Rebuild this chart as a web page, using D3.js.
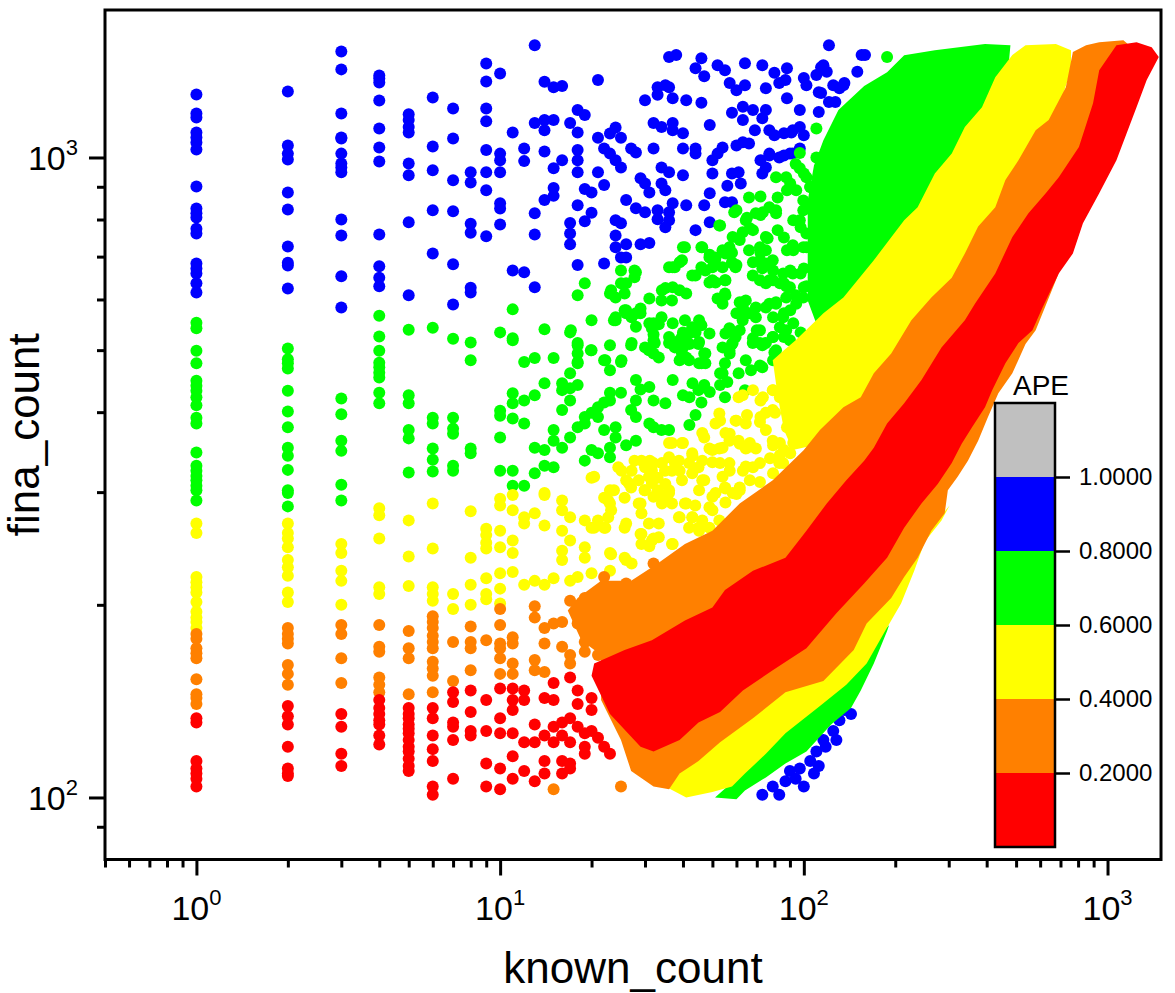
<!DOCTYPE html>
<html>
<head>
<meta charset="utf-8">
<script src="https://cdn.jsdelivr.net/npm/d3@7"></script>
<style>
  body { margin: 0; background: #fff; }
  text { font-family: Arial, "Liberation Sans", sans-serif; fill: #000; }
</style>
</head>
<body>
<div id="container"></div>
<script>
const width = 1175;
const height = 993;

// APE classes (colour bar)
const apeBreaks = [0.2, 0.4, 0.6, 0.8, 1.0];
const apeColors = ["#ff0000", "#ff8000", "#ffff00", "#00ff00", "#0000ff", "#c0c0c0"];
const apeEdges = [0, 0.2, 0.4, 0.6, 0.8, 1.0, 1.2];
const apeTicks = [0.2, 0.4, 0.6, 0.8, 1.0];

// axis ticks
const xMajor = [1, 10, 100, 1000];
const xMinor = [0.5, 0.6, 0.7, 0.8, 0.9, 2, 3, 4, 5, 6, 7, 8, 9, 20, 30, 40, 50, 60, 70, 80, 90,
                200, 300, 400, 500, 600, 700, 800, 900];
const yMajor = [100, 1000];
const yMinor = [90, 200, 300, 400, 500, 600, 700, 800, 900];

// low known_count columns: [known_count, [fina_count, ...]]
const blueCols = [
  [1, [1254,1171,1155,1094,1075,1055,1029,901,832,818,806,774,761,683,671,659,636,615]],
  [2, [1268,1044,1014,993,882,829,726,685,678,624]],
  [3, [1464,1373,1171,1075,1071,1014,979,965,948,800,755,652,583]],
  [4, [1343,1329,1310,1228,1110,1037,986,758,676,649,629]],
  [5, [1168,1144,1116,1094,979,938,792,609]],
  [6, [1241,1040,955,827,708]],
  [7, [1193,1071,921,824,681,589]],
  [8, [948,914,788,763,626,615]],
  [9, [1402,1314,1193,1139,1027,948,889,753]],
  [10, [1353,1014,990,948,848,832,786]]
];
const greenCols = [
  [1, [552,541,499,477,448,440,432,422,410,392,384,346,330,324,318,313,307,302,291]],
  [2, [503,484,477,468,432,401,379,352,342,325,302,299,285]],
  [3, [420,397,361,348,308,291]],
  [4, [566,525,499,478,470,461,453,429,413]],
  [5, [538,425,413,375,364,322]],
  [6, [542,392,384,351,337,323]],
  [7, [521,392,377,370,330,324]],
  [8, [514,482,351,345]],
  [10, [533,402,395,365,324]]
];
const yellowCols = [
  [1, [268,259,221,217,213,209,202,195,191,188,184]],
  [2, [268,259,254,246,235,229,222,209,202]],
  [3, [249,241,226,218,200]],
  [4, [283,276,254,213,208]],
  [5, [271,238,214]],
  [6, [288,245,213,208,203]],
  [7, [208,197]],
  [8, [280,237,215,200]],
  [9, [263,257,250,245,220,208,204]],
  [10, [293,286,261,246,224,212,201]]
];
const orangeCols = [
  [1, [180,177,171,168,165,153,145,143,140]],
  [2, [184,180,177,174,161,156,150]],
  [3, [186,180,165,151]],
  [4, [186,172,169,154,150,146]],
  [5, [182,171,165,145]],
  [6, [192,188,184,179,175,171,163,159,155,146]],
  [7, [175,152]],
  [8, [185,175,171,158]],
  [9, [176]],
  [10, [197,186,174,171,165,156]]
];
const redCols = [
  [1, [133,131,114,111,109,107,104]],
  [2, [139,134,130,120,111,109,108]],
  [3, [135,129,117,112]],
  [4, [142,138,135,132,130,125,121]],
  [5, [138,135,133,130,128,126,123,120,118,115,112,110]],
  [6, [138,133,125,119,114,104,101]],
  [7, [146,141,131,129,123,107]],
  [8, [147,136,127,125]],
  [9, [142,127,113,104]],
  [10, [148,133,126,111,103]]
];

// scattered points: [known_count, fina_count]
const blueDots = [[11,1094],[11,666],[12,1033],[12,987],[12,662],[13,1498],[13,1132],[13,818],[13,758],[13,627],
  [14,1313],[14,1144],[14,1103],[14,1022],[14,858],[15,1288],[16,1293],[15,1144],[15,962],[15,896],[15,871],
  [16,990],[17,1132],[18,1186],[19,1165],[18,1094],[18,1027],[18,990],[18,948],[17,790],[17,761],[17,732],
  [18,842],[18,679],[19,893],[20,882],[19,795],[20,820],[21,1321],[21,1074],[21,948],[22,906],[22,683],
  [22,1033],[23,1014],[24,990],[25,965],[23,1090],[24,1114],[25,1074],[24,798],[25,789],[24,755],[24,724],
  [26,732],[29,732],[31,735],[25,698],[26,698],[26,858],[28,833],[30,821],[27,1033],[28,1018],[29,928],
  [30,911],[31,882],[30,1229],[33,1288],[35,1297],[36,1288],[33,1253],[32,1132],[34,1116],[37,1132],
  [37,1103],[40,1091],[32,1033],[34,965],[36,948],[34,911],[35,889],[33,827],[33,801],[36,821],[37,848],
  [36,798],[35,778],[37,1238],[41,1229],[36,1436],[38,1446],[41,842],[40,1033],[40,938],[44,1379],[46,1429],
  [46,1218],[44,770],[44,1033],[44,1014],[47,1340],[49,1124],[49,879],[49,792],[47,842],[52,1394],[55,1369],
  [54,1037],[52,1014],[50,990],[50,944],[57,1307],[60,1274],[58,1175],[63,1200],[63,1144],[68,1186],[56,903],
  [62,911],[58,944],[61,948],[55,851],[58,851],[60,1044],[63,1056],[66,1052],[64,1404],[64,1297],[69,1103],
  [73,1394],[75,1283],[73,1152],[75,1186],[72,990],[73,944],[77,1007],[77,1103],[80,1083],[86,1091],
  [91,1094],[97,1116],[100,1083],[80,1356],[83,1307],[88,1379],[88,1238],[86,1007],[90,1014],[97,1033],
  [97,1186],[112,1178],[114,1261],[100,1331],[102,1297],[110,1346],[116,1394],[119,1361],[121,1498],
  [125,1297],[131,1283],[136,1307],[121,1221],[127,1221],[150,1361],[155,1446],[159,1446],[87,1321],
  [114,1384],[135,1297],[112,1265],[92,1103],[77,1014],[83,1000],[92,1014],[75,965],
  [73,101],[79,104],[87,106],[94,107],[90,110],[97,111],[108,109],[105,114],[110,118],[118,120],[116,123],
  [125,127],[131,132],[136,137],[143,135],[128,123],[83,101],[100,104],[112,112]];
const greenDots = [[11,518],[12,479],[13,486],[15,486],[14,444],[16,444],[17,436],[18,441],[18,509],[18,479],
  [17,460],[20,500],[22,482],[23,465],[25,479],[27,509],[30,505],[32,518],[32,494],[36,524],[40,505],[41,487],
  [39,482],[45,511],[47,494],[46,477],[57,494],[55,477],[54,460],[58,511],[68,522],[73,509],[80,496],[11,428],
  [11,413],[12,417],[11,391],[12,384],[13,425],[16,433],[16,403],[17,417],[18,379],[15,375],[15,361],
  [13,352],[14,349],[13,321],[14,330],[15,328],[11,324],[12,307],[11,307],[16,352],[17,365],[19,393],[20,399],
  [19,384],[21,407],[22,414],[21,393],[23,429],[23,417],[25,429],[24,379],[24,365],[26,355],[22,375],[19,336],
  [20,349],[21,345],[23,340],[23,352],[28,449],[29,434],[31,438],[27,403],[28,393],[28,417],[31,384],[32,379],
  [34,375],[36,375],[28,361],[32,417],[35,413],[37,449],[40,425],[42,422],[43,444],[45,433],[47,441],[42,382],
  [44,396],[46,414],[49,430],[53,441],[56,446],[53,460],[61,460],[67,465],[73,470],[64,433],[55,422],[86,524],
  [90,518],[11,579],[11,522],[14,539],[17,533],[18,513],[19,636],[18,609],[20,557],[23,613],[24,604],[24,557],
  [25,666],[25,636],[26,636],[28,662],[26,577],[28,571],[29,581],[31,551],[32,551],[31,602],[34,598],[35,625],
  [37,674],[39,686],[37,627],[39,620],[41,613],[44,654],[40,724],[46,724],[49,705],[51,691],[46,674],[50,643],
  [55,643],[55,613],[52,602],[58,686],[58,710],[60,679],[66,716],[60,827],[53,783],[66,866],[72,869],[82,866],
  [72,813],[65,805],[68,770],[76,748],[82,770],[86,750],[72,710],[68,686],[73,671],[79,691],[77,643],[86,636],
  [92,659],[100,671],[90,627],[94,609],[100,627],[108,650],[88,716],[92,729],[102,724],[110,742],[77,836],
  [81,827],[102,833],[110,778],[118,789],[94,977],[97,962],[81,931],[88,889],[100,944],[105,899],[110,1000],
  [97,798],[66,571],[63,583],[60,571],[54,591],[57,535],[77,591],[81,594],[86,571],[70,537],[79,524],[46,547],
  [44,533],[40,533],[42,511],[37,551],[39,518],[34,563],[32,529],[29,571],[28,544],[26,571],[24,563],[23,509],
  [188,1436],[110,1110],[97,1016],
  [17.1,537],[18,494],[18,477],[19.9,500],[22.2,482],[25.1,482],[27.1,513],[30.9,500],[32.3,513],[33.3,487],
  [31.6,541],[33.3,549],[36,513],[37.6,505],[39.7,494],[41.9,482],[45.2,477],[47.4,477],[39.7,524],[41.9,531],
  [40.6,557],[42.9,543],[45.2,557],[45.2,515],[47.4,494],[48.9,531],[54,505],[56.9,500],[58.3,513],[56.9,541],
  [55.2,531],[59.6,524],[61.5,537],[62.9,557],[64.4,571],[69.5,563],[71.7,537],[79.2,563],[83.4,543],
  [87.5,537],[79.2,524],[81,500],[75,513],[92.3,551],[97.6,533],[99.6,513],[102,494],[67.9,513],[71.7,513],
  [64.4,482],[71.7,473],[79.2,482],[90.2,577],[85.5,563],[87.5,604],[81,591],[75,583],[69.5,583],[64.4,598],
  [61.5,594],[99.6,604],[94.4,591],[97.6,659],[102,629],[83.4,636],[87.5,629],[67.9,654],[71.7,643],[75,636],
  [79.2,643],[75,683],[79.2,666],[85.5,659],[90.2,666],[71.7,691],[75,716],[55.2,609],[55.2,643],[48.9,638],
  [51.2,638],[42.9,654],[39.7,691],[37.6,674],[47.4,666],[50,674],[54,674],[58.3,683],[59.6,674],[55.2,708],
  [48.9,698],[51.2,698],[54,716],[40.6,724],[46.3,724],[58.3,751],[56.9,724],[61.5,743],[75,751],[71.7,724],
  [64.4,798],[66.4,775],[62.9,764],[69.5,818],[73.3,821],[81,818],[59,821],[52.7,783],[92.3,798],[97.6,778],
  [92.3,716],[99.6,724],[102,761],[99.6,827],[99.6,857],[87.5,931],[90.2,911],[94.4,889],[102,931],[105,899],
  [23.7,557],[25.7,577],[27.1,563],[34.1,620],[36.8,598],[23.2,620],[25.7,613],[27.7,666],[27.7,650],[36,674]];
const yellowDots = [[11,281],[12,274],[13,278],[14,266],[16,291],[16,281],[17,274],[16,261],[17,252],[16,243],
  [16,235],[19,246],[19,237],[20,316],[19,271],[20,264],[22,264],[22,294],[23,302],[23,288],[26,313],[27,305],
  [29,288],[30,302],[32,295],[33,302],[35,295],[36,302],[29,258],[32,254],[31,247],[26,268],[26,235],[23,241],
  [23,226],[20,224],[18,221],[17,218],[15,220],[14,215],[13,218],[12,215],[11,225],[11,241],[14,299],[36,340],
  [40,358],[43,342],[45,328],[47,313],[53,333],[57,324],[50,349],[54,352],[61,361],[65,352],[68,328],[63,324],
  [55,305],[60,298],[50,295],[41,288],[43,274],[45,264],[39,274],[37,249],[35,309],[33,316],[30,328],[32,333],
  [39,324],[61,422],[68,433],[72,417],[65,396],[60,388],[53,388],[57,370],[47,365],[72,393],[79,403],[75,375],
  [79,361],[86,349],[88,379],[90,417],[97,403],[86,434],[79,433],[92,460],[102,470],[100,494],[114,505],
  [116,482],[125,518],[131,494],[136,465],[146,500],[154,524],[110,444],[122,422],[106,398],[94,365],[83,333],
  [102,365],[11,297],[11,252],[12,268],[14,297],
  [62.9,425],[73.3,422],[79.2,433],[83.4,422],[87.5,437],[97.6,443],[95.2,407],[102,398],[75,399],[80.4,399],
  [71.7,386],[64.4,384],[59.6,388],[52.7,398],[51.2,384],[46.3,371],[55.2,371],[56.9,361],[61.5,357],
  [66.4,358],[64.4,351],[69.5,351],[79.2,355],[83.4,358],[92.3,358],[90.2,345],[83.4,343],[77.4,339],
  [85.5,333],[79.2,321],[71.7,333],[64.4,329],[66.4,313],[71.7,311],[61.5,305],[56.9,333],[52.7,351],
  [48.9,351],[50,334],[46.3,336],[42.9,345],[41.9,333],[39.7,358],[36.8,358],[37.6,334],[39.7,313],[46.3,313],
  [42.9,321],[45.2,302],[54,317],[55.2,304],[51.2,299],[48.9,284],[43.9,286],[40.6,288],[42.9,274],[46.3,271],
  [50,281],[55.2,289],[58.3,299],[61.5,302],[52.7,271],[48.9,264],[45.2,261],[41.9,264],[38.8,274],[36.8,288],
  [36,299],[33.3,299],[34.1,288],[33.3,268],[30.9,268],[28.6,288],[29.2,278],[29.9,302],[31.6,310],[30.9,317],
  [28.6,313],[27.1,324],[25.1,324],[24.5,328],[26.5,310],[25.7,294],[23.7,302],[22.7,291],[22.2,294],
  [23.2,281],[22.7,274],[20.4,317],[21,271],[20.4,264],[22.2,264],[23.2,240],[25.7,237],[25.7,264],[29.2,258],
  [29.2,249],[31.6,252],[33.3,255],[36.8,249],[27.1,232],[29.2,336],[31.1,336],[34.1,333],[34.9,324],
  [36.8,324],[38.8,336],[31.6,324],[27.7,336],[36,358]];
const orangeDots = [[11,178],[11,174],[11,162],[11,156],[13,199],[13,191],[14,184],[15,187],[16,188],[14,174],
  [13,164],[13,158],[14,157],[16,172],[17,167],[17,162],[19,175],[19,169],[21,167],[17,203],[19,205],[20,201],
  [21,205],[18,187],[19,182],[21,196],[22,194],[21,177],[23,170],[24,185],[26,188],[27,182],[29,180],[22,221],
  [24,213],[26,216],[28,209],[23,209],[25,203],[26,198],[29,196],[32,232],[33,221],[35,216],[30,216],[32,209],
  [33,198],[36,194],[40,198],[39,232],[41,218],[43,213],[45,221],[41,205],[45,196],[15,103],[25,104]];
const redDots = [[11,148],[11,142],[11,137],[11,126],[11,116],[11,107],[12,147],[12,142],[12,122],[12,110],
  [13,130],[13,122],[13,106],[14,143],[14,125],[14,114],[14,109],[15,151],[15,142],[15,129],[15,122],[16,131],
  [17,133],[16,125],[17,122],[16,114],[17,111],[17,113],[16,109],[17,154],[18,147],[18,140],[18,129],[19,126],
  [19,120],[19,117],[20,143],[20,137],[20,127],[22,120],[23,117],[21,124]];

// dense regions where the points merge: outline vertices [known_count, fina_count]
const greenUpper = [[116,1064],[130,1186],[158,1293],[188,1359],[214,1445],[270,1471],[395,1504],[479,1498],
  [461,1229],[352,990],[270,827],[191,716],[158,620],[125,557],[112,537],[103,598],[103,716],[103,857],
  [108,972]];
const greenLower = [[191,186],[170,176],[146,161],[125,147],[100,136],[79,123],[65,112],[56,104],[51,100],
  [60,99.4],[64,102.5],[75,107.5],[87,113],[102,118],[123,130],[143,138],[154,147],[170,162],[188,182]];
const yellowUpper = [[537,1498],[676,1504],[758,1471],[758,1369],[686,1186],[537,990],[427,798],[339,666],
  [270,577],[214,509],[170,438],[135,388],[108,355],[92,349],[86,375],[82,425],[79,482],[86,500],[94,518],
  [116,571],[135,604],[170,691],[214,798],[237,836],[270,944],[307,1014],[339,1116],[386,1198],[427,1335],
  [486,1446]];
const yellowLower = [[302,286],[259,261],[214,233],[177,207],[146,184],[116,163],[87,148],[68,136],[53,124],
  [43,114],[35,104],[41,100],[50,102],[58,104],[64,109],[75,117],[87,126],[113,139],[138,150],[161,162],
  [184,181],[209,201],[231,226],[250,251],[284,271]];
const orangeBand = [[769,1461],[850,1498],[939,1514],[1128,1525],[1346,1419],[1246,1229],[991,955],[787,770],
  [676,643],[580,537],[537,511],[486,460],[437,428],[404,393],[375,361],[347,336],[321,317],[298,302],
  [291,278],[263,261],[237,237],[214,221],[194,205],[161,187],[146,170],[116,152],[87,146],[68,133],[53,122],
  [45,114],[39,109],[36,103],[32,104],[27,110],[25,123],[21.5,142],[21.5,167],[18.5,176],[16.7,196],[18,205],
  [21.5,218],[27,218],[33,232],[40.6,249],[50,261],[61.5,288],[79,313],[100,349],[113,375],[135,407],
  [154,422],[170,460],[194,494],[226,557],[263,604],[307,649],[339,708],[375,780],[427,836],[461,922],
  [509,990],[580,1103],[640,1144],[729,1288]];
const redBand = [[1070,1498],[1246,1514],[1398,1487],[1475,1435],[1346,1321],[1246,1198],[1070,990],[939,879],
  [830,789],[769,708],[691,659],[611,583],[566,537],[509,513],[461,477],[417,433],[395,407],[358,379],
  [331,357],[307,333],[276,309],[244,288],[214,264],[188,237],[158,216],[128,194],[102,171],[79,158],[63,147],
  [53,136],[45,131],[39,123],[32,118],[29,120],[23,135],[20,155],[20.4,162],[25.7,170],[31.6,176],[40.6,189],
  [50,198],[55,211],[68,226],[87,237],[102,261],[119,288],[138,313],[158,336],[170,352],[188,384],[214,413],
  [244,449],[284,505],[339,557],[366,591],[427,659],[486,751],[549,818],[626,879],[691,931],[805,1038],
  [896,1216],[939,1369]];

const plot = { left: 105, right: 1161, top: 10, bottom: 859.5 };
const dotRadius = 6;

const svg = d3.select("#container")
              .append("svg")
              .attr("width", width)
              .attr("height", height);

const x = d3.scaleLog().domain([0.5, 1500]).range([plot.left, plot.right]);
const y = d3.scaleLog().domain([80, 1700]).range([plot.bottom, plot.top]);
const color = d3.scaleThreshold().domain(apeBreaks).range(apeColors);

svg.append("clipPath")
   .attr("id", "plot-clip")
   .append("rect")
   .attr("x", plot.left)
   .attr("y", plot.top)
   .attr("width", plot.right - plot.left)
   .attr("height", plot.bottom - plot.top);

// drawing order: highest APE first, lowest (red) on top
const layers = [
  { ape: 0.9, bands: [], cols: blueCols, dots: blueDots },
  { ape: 0.7, bands: [greenUpper, greenLower], cols: greenCols, dots: greenDots },
  { ape: 0.5, bands: [yellowUpper, yellowLower], cols: yellowCols, dots: yellowDots },
  { ape: 0.3, bands: [orangeBand], cols: orangeCols, dots: orangeDots },
  { ape: 0.1, bands: [redBand], cols: redCols, dots: redDots }
];

const outline = d3.line()
                  .x(d => x(d[0]))
                  .y(d => y(d[1]))
                  .curve(d3.curveLinearClosed);

const marks = svg.append("g").attr("clip-path", "url(#plot-clip)");

layers.forEach(layer => {
  const fill = color(layer.ape);
  const g = marks.append("g");
  g.selectAll("path")
   .data(layer.bands)
   .enter()
   .append("path")
   .attr("d", outline)
   .attr("fill", fill);
  const points = layer.cols
                      .flatMap(([k, list]) => list.map(f => [k, f]))
                      .concat(layer.dots);
  g.selectAll("circle")
   .data(points)
   .enter()
   .append("circle")
   .attr("cx", d => x(d[0]))
   .attr("cy", d => y(d[1]))
   .attr("r", dotRadius)
   .attr("fill", fill);
});

// frame
svg.append("rect")
   .attr("x", plot.left)
   .attr("y", plot.top)
   .attr("width", plot.right - plot.left)
   .attr("height", plot.bottom - plot.top)
   .attr("fill", "none")
   .attr("stroke", "#000")
   .attr("stroke-width", 3);

const styleTicks = g => {
  g.select(".domain").remove();
  g.selectAll("line").attr("stroke", "#000").attr("stroke-width", 3);
};

svg.append("g")
   .attr("transform", "translate(0," + plot.bottom + ")")
   .call(d3.axisBottom(x).tickValues(xMinor).tickSize(8).tickFormat(""))
   .call(styleTicks);
svg.append("g")
   .attr("transform", "translate(0," + plot.bottom + ")")
   .call(d3.axisBottom(x).tickValues(xMajor).tickSize(16).tickFormat(""))
   .call(styleTicks);
svg.append("g")
   .attr("transform", "translate(" + plot.left + ",0)")
   .call(d3.axisLeft(y).tickValues(yMinor).tickSize(8).tickFormat(""))
   .call(styleTicks);
svg.append("g")
   .attr("transform", "translate(" + plot.left + ",0)")
   .call(d3.axisLeft(y).tickValues(yMajor).tickSize(16).tickFormat(""))
   .call(styleTicks);

// power-of-ten labels
const powerLabel = (sel) => {
  sel.append("tspan")
     .attr("font-size", 34)
     .text("10");
  sel.append("tspan")
     .attr("font-size", 22)
     .attr("dy", -15)
     .text(d => Math.round(Math.log10(d)));
};
svg.selectAll(".x-label")
   .data(xMajor)
   .enter()
   .append("text")
   .attr("class", "x-label")
   .attr("x", d => x(d))
   .attr("y", 920)
   .attr("text-anchor", "middle")
   .call(powerLabel);
svg.selectAll(".y-label")
   .data(yMajor)
   .enter()
   .append("text")
   .attr("class", "y-label")
   .attr("x", 78)
   .attr("y", d => y(d) + 13)
   .attr("text-anchor", "end")
   .call(powerLabel);

// axis titles
svg.append("text")
   .attr("x", (plot.left + plot.right) / 2)
   .attr("y", 983)
   .attr("text-anchor", "middle")
   .attr("font-size", 44)
   .text("known_count");
svg.append("text")
   .attr("transform", "translate(39," + (plot.top + plot.bottom) / 2 + ") rotate(-90)")
   .attr("text-anchor", "middle")
   .attr("font-size", 44)
   .text("fina_count");

// colour bar
const bar = { left: 995, width: 60 };
const apeScale = d3.scaleLinear().domain([0, 1.2]).range([847, 403]);
const legend = svg.append("g").attr("id", "legend");
legend.selectAll("rect")
      .data(d3.pairs(apeEdges))
      .enter()
      .append("rect")
      .attr("x", bar.left)
      .attr("y", d => apeScale(d[1]))
      .attr("width", bar.width)
      .attr("height", d => apeScale(d[0]) - apeScale(d[1]))
      .attr("fill", d => color((d[0] + d[1]) / 2));
legend.append("rect")
      .attr("x", bar.left)
      .attr("y", apeScale(1.2))
      .attr("width", bar.width)
      .attr("height", apeScale(0) - apeScale(1.2))
      .attr("fill", "none")
      .attr("stroke", "#000")
      .attr("stroke-width", 2.5);
legend.append("g")
      .attr("transform", "translate(" + (bar.left + bar.width) + ",0)")
      .call(d3.axisRight(apeScale).tickValues(apeTicks).tickSize(15).tickPadding(9).tickFormat(d3.format(".4f")))
      .call(g => g.select(".domain").remove())
      .call(g => g.selectAll("line").attr("stroke", "#000").attr("stroke-width", 2.5))
      .call(g => g.selectAll("text")
                  .attr("font-size", 24)
                  .attr("font-family", "Arial, 'Liberation Sans', sans-serif")
                  .attr("fill", "#000"));
legend.append("text")
      .attr("x", bar.left + bar.width / 2 + 16)
      .attr("y", 395)
      .attr("text-anchor", "middle")
      .attr("font-size", 28)
      .text("APE");
</script>
</body>
</html>
